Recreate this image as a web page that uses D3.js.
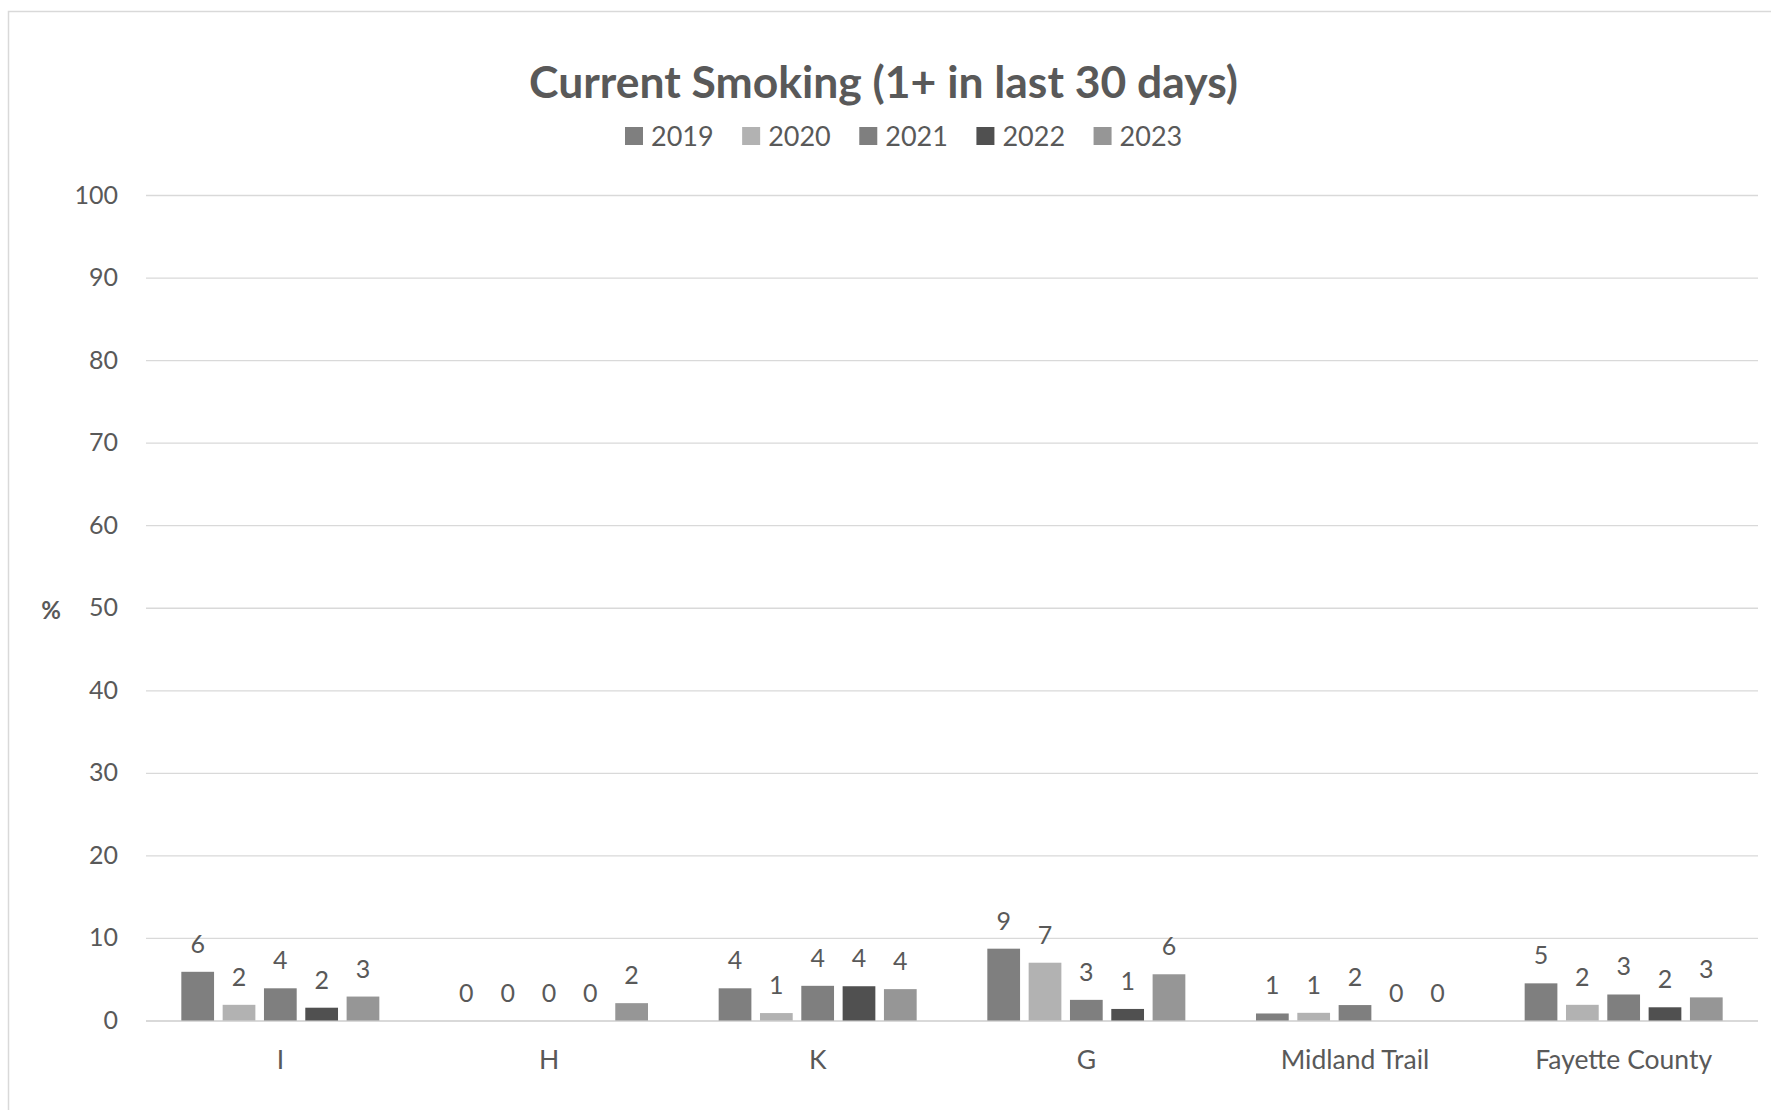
<!DOCTYPE html>
<html>
<head>
<meta charset="utf-8">
<script src="https://cdn.jsdelivr.net/npm/d3@7"></script>
<style>
  html, body { margin: 0; padding: 0; background: #fff; }
  svg { display: block; }
  text { font-family: Lato, "Open Sans", sans-serif; fill: #595959; }
</style>
</head>
<body>
<svg id="chart" width="1771" height="1110"></svg>
<script>
const categories = ["I", "H", "K", "G", "Midland Trail", "Fayette County"];
const seriesNames = ["2019", "2020", "2021", "2022", "2023"];
const v2019 = [5.9, 0, 3.9, 8.7, 0.85, 4.5];
const v2020 = [1.9, 0, 0.9, 7.0, 0.93, 1.9];
const v2021 = [3.9, 0, 4.2, 2.5, 1.87, 3.15];
const v2022 = [1.55, 0, 4.15, 1.4, 0, 1.6];
const v2023 = [2.9, 2.1, 3.8, 5.6, 0, 2.8];
const yTicks = [0, 10, 20, 30, 40, 50, 60, 70, 80, 90, 100];
const titleText = "Current Smoking (1+ in last 30 days)";
const yAxisTitle = "%";

const seriesValues = [v2019, v2020, v2021, v2022, v2023];
const colors = ["#7f7f7f", "#b2b2b2", "#7f7f7f", "#505050", "#969696"];

const svg = d3.select("#chart");

// chart border
svg.append("rect")
  .attr("x", 8.5).attr("y", 11.5)
  .attr("width", 1800).attr("height", 1200)
  .attr("fill", "none").attr("stroke", "#d9d9d9").attr("stroke-width", 1.5);

const plot = { left: 146, right: 1758, top: 195, bottom: 1020.5 };

const x0 = d3.scaleBand().domain(categories)
  .range([plot.left, plot.right])
  .paddingInner(0.263).paddingOuter(0.1315);
const x1 = d3.scaleBand().domain(seriesNames)
  .range([0, x0.bandwidth()])
  .paddingInner(0.208).paddingOuter(0);
const y = d3.scaleLinear().domain([0, 100]).range([plot.bottom, plot.top]);

// gridlines + y tick labels
const yAxis = svg.append("g")
  .attr("transform", `translate(${plot.left},0)`)
  .call(d3.axisLeft(y).tickValues(yTicks).tickSize(-(plot.right - plot.left)).tickPadding(28).tickFormat(d3.format("d")));
yAxis.select(".domain").remove();
yAxis.selectAll(".tick line")
  .attr("stroke", "#d9d9d9")
  .attr("stroke-width", d => d === 0 ? 2 : 1.3);
yAxis.selectAll(".tick text")
  .attr("font-size", 25).attr("fill", "#595959")
  .style("font-family", "Lato, sans-serif");

// y axis title
svg.append("text")
  .attr("x", 51).attr("y", 609)
  .attr("text-anchor", "middle").attr("dominant-baseline", "central")
  .attr("font-size", 24).attr("font-weight", "bold")
  .text(yAxisTitle);

// bars
const groups = svg.append("g").selectAll("g")
  .data(categories)
  .join("g")
  .attr("transform", d => `translate(${x0(d)},0)`);

groups.selectAll("rect")
  .data((c, ci) => seriesNames.map((s, si) => ({ s, si, v: seriesValues[si][ci] })))
  .join("rect")
  .attr("x", d => x1(d.s))
  .attr("width", x1.bandwidth())
  .attr("y", d => y(d.v))
  .attr("height", d => y(0) - y(d.v))
  .attr("fill", d => colors[d.si]);

groups.selectAll("text.val")
  .data((c, ci) => seriesNames.map((s, si) => ({ s, si, v: seriesValues[si][ci] })))
  .join("text")
  .attr("class", "val")
  .attr("x", d => x1(d.s) + x1.bandwidth() / 2)
  .attr("y", d => y(d.v) - 19)
  .attr("text-anchor", "middle")
  .attr("font-size", 25)
  .text(d => Math.round(d.v));

// category axis
const xAxis = svg.append("g")
  .attr("transform", `translate(0,${plot.bottom})`)
  .call(d3.axisBottom(x0).tickSize(0).tickPadding(30));
xAxis.select(".domain").remove();
xAxis.selectAll(".tick text")
  .attr("font-size", 26.5).attr("fill", "#595959")
  .style("font-family", "Lato, sans-serif");

// title
const title = svg.append("text")
  .attr("x", 883.5).attr("y", 98)
  .attr("text-anchor", "middle")
  .attr("font-size", 40).attr("font-weight", "bold")
  .text(titleText);
const tw = title.node().getComputedTextLength();
title.attr("font-size", 40 * 709 / tw);

// legend
const legend = svg.append("g");
let lx = 625;
seriesNames.forEach((s, i) => {
  const g = legend.append("g").attr("transform", `translate(${lx},0)`);
  g.append("rect").attr("x", 0).attr("y", 127).attr("width", 18).attr("height", 18).attr("fill", colors[i]);
  const t = g.append("text").attr("x", 26).attr("y", 145.5).attr("font-size", 27).text(s);
  const w = t.node().getComputedTextLength();
  lx += 26 + w + 28.5;
});
</script>
</body>
</html>
